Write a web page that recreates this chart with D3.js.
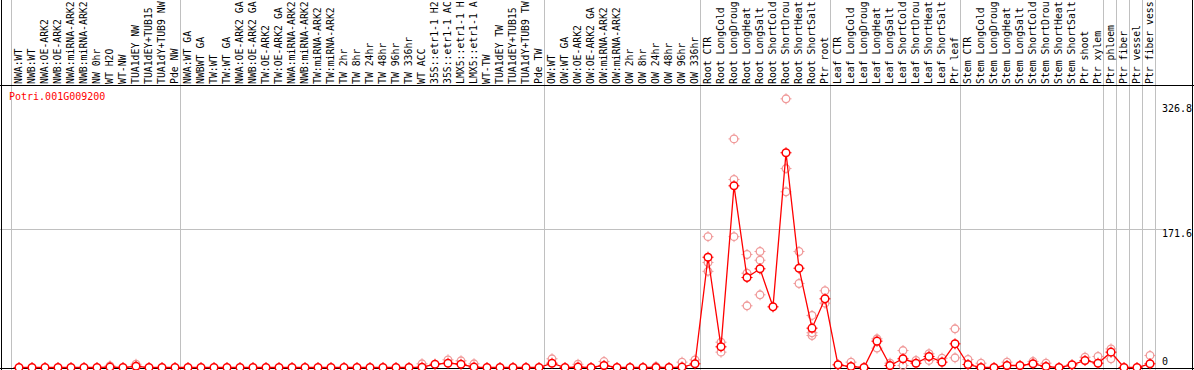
<!DOCTYPE html>
<html>
<head>
<meta charset="utf-8">
<script src="https://cdn.jsdelivr.net/npm/d3@7"></script>
<style>
  html, body { margin: 0; padding: 0; background: #fff; }
  svg { display: block; }
  text { font-family: "DejaVu Sans Mono", monospace; font-size: 10px; }
  .label { font-size: 9.8px; }
</style>
</head>
<body>
<svg id="chart" width="1194" height="370"></svg>
<script>
const geneId = 'Potri.001G009200';

// sample names as they show in the header (long ones are cut there)
const sampleLabels = [
  'NWA:WT', 'NWB:WT', 'NWA:OE-ARK2', 'NWB:OE-ARK2', 'NWA:miRNA-ARK2', 'NWB:miRNA-ARK2',
  'NW 0hr', 'WT H2O', 'WT-NW', 'TUA1dEY NW', 'TUA1dEY+TUB15', 'TUA1dY+TUB9 NW', 'Pde NW',
  'NWA:WT GA', 'NWBWT GA', 'TW:WT', 'TW:WT GA', 'NWA:OE-ARK2 GA', 'NWB:OE-ARK2 GA',
  'TW:OE-ARK2', 'TW:OE-ARK2 GA', 'NWA:miRNA-ARK2', 'NWB:miRNA-ARK2', 'TW:miRNA-ARK2',
  'TW:miRNA-ARK2', 'TW 2hr', 'TW 8hr', 'TW 24hr', 'TW 48hr', 'TW 96hr', 'TW 336hr', 'WT ACC',
  '35S::etr1-1 H2', '35S::etr1-1 AC', 'LMX5::etr1-1 H', 'LMX5::etr1-1 A', 'WT-TW',
  'TUA1dEY TW', 'TUA1dEY+TUB15', 'TUA1dY+TUB9 TW', 'Pde TW',
  'OW:WT', 'OW:WT GA', 'OW:OE-ARK2', 'OW:OE-ARK2 GA', 'OW:miRNA-ARK2', 'OW:miRNA-ARK2',
  'OW 2hr', 'OW 8hr', 'OW 24hr', 'OW 48hr', 'OW 96hr', 'OW 336hr',
  'Root CTR', 'Root LongCold', 'Root LongDroug', 'Root LongHeat', 'Root LongSalt',
  'Root ShortCold', 'Root ShortDrou', 'Root ShortHeat', 'Root ShortSalt', 'Ptr root',
  'Leaf CTR', 'Leaf LongCold', 'Leaf LongDroug', 'Leaf LongHeat', 'Leaf LongSalt',
  'Leaf ShortCold', 'Leaf ShortDrou', 'Leaf ShortHeat', 'Leaf ShortSalt', 'Ptr leaf',
  'Stem CTR', 'Stem LongCold', 'Stem LongDroug', 'Stem LongHeat', 'Stem LongSalt',
  'Stem ShortCold', 'Stem ShortDrou', 'Stem ShortHeat', 'Stem ShortSalt', 'Ptr shoot',
  'Ptr xylem', 'Ptr phloem', 'Ptr fiber', 'Ptr vessel', 'Ptr fiber vess'
];

// index where each sample group starts (last entry = end)
const groupBreaks = [0, 13, 41, 53, 63, 73, 84, 85, 86, 87, 88];

// mean expression per sample
const meanValues = [
  0, 0, 0, 0, 0, 0, 0, 0.5, 0, 1.5, 0, 0, 0,
  0, 0, 0, 0, 0, 0, 0, 0, 0, 0, 0, 0, 0, 0, 0, 0, 0, 0, 0.4,
  4, 5.3, 4, 0.5, 0, 0, 0, 0, 0,
  5.3, 0, 0.5, 0, 2.5, 0, 0, 0, 0, 0, 0.5, 4.6,
  136.5, 25.6, 224.9, 111.4, 122.2, 75.1, 265.8, 122.9, 48.7, 85,
  3.3, 1.2, 0, 32.6, 2.5, 10.8, 5.3, 13.6, 6.6, 29.3,
  3.7, 0, 0, 2.5, 2.5, 4.6, 1.2, 0, 3.3, 8.7, 5.3,
  19, 0, 0, 4.6
];

// individual replicates (only those that stand apart from the mean)
const replicateValues = [
  [], [], [], [], [], [], [], [2], [], [4, 1], [], [], [],
  [], [], [], [], [], [], [], [], [], [], [], [], [], [], [], [], [], [], [4.6],
  [], [9.5], [8.3], [4.6], [], [], [], [], [],
  [10.8], [], [4], [], [7.4], [], [], [], [1.2], [], [6.6], [9.5],
  [162, 130, 119], [31.3, 19], [283, 232.7, 162], [139.9, 116.7, 76.4], [143.6, 132.8, 90], [],
  [332.6, 246.3, 217.5], [143.6, 104], [64.4, 43, 39.6], [95, 79.6],
  [], [6.6], [], [35.5, 24], [5.3], [21, 2.5], [8.7], [17, 8.7], [11.5], [47.9, 12],
  [9.9], [5.3], [], [6.6], [], [7.4], [5.3], [], [], [12.7], [13.6],
  [23, 10.8], [], [], [14.9]
];

const yTicks = [0, 171.6, 326.8];

const width = 1194;
const height = 370;
const plotLeft = 11;
const plotRight = 1155;
const headerBottom = 85;
const plotBottom = 367.5;

const svg = d3.select('#chart');

const x = d3.scaleBand()
  .domain(d3.range(sampleLabels.length))
  .range([plotLeft, plotRight]);
const pointX = i => x(i) + 8;
const edgeX = i => Math.round(i < sampleLabels.length ? x(i) : plotRight) + 0.5;

const y = d3.scaleLinear()
  .domain([0, 326.8])
  .range([plotBottom, 103.5]);

// grid line at middle tick
svg.append('line')
  .attr('x1', 0).attr('x2', plotRight + 8)
  .attr('y1', Math.round(y(171.6)) + 0.5).attr('y2', Math.round(y(171.6)) + 0.5)
  .attr('stroke', '#c0c0c0');

// group separators
svg.selectAll('.sep')
  .data(groupBreaks)
  .enter().append('line')
  .attr('class', 'sep')
  .attr('x1', edgeX)
  .attr('x2', edgeX)
  .attr('y1', 0).attr('y2', height)
  .attr('stroke', '#c0c0c0');

// frame
svg.append('line').attr('x1', 0).attr('x2', width).attr('y1', headerBottom + 0.5).attr('y2', headerBottom + 0.5).attr('stroke', '#000');
svg.append('line').attr('x1', 0).attr('x2', width).attr('y1', 368.5).attr('y2', 368.5).attr('stroke', '#000');
svg.append('line').attr('x1', 1.5).attr('x2', 1.5).attr('y1', 0).attr('y2', height).attr('stroke', '#000');
svg.append('line').attr('x1', 1192.5).attr('x2', 1192.5).attr('y1', 0).attr('y2', height).attr('stroke', '#000');

// sample labels, rotated
svg.selectAll('.label')
  .data(sampleLabels)
  .enter().append('text')
  .attr('class', 'label')
  .attr('transform', (d, i) => `translate(${x(i) + 10.5},84) rotate(-90)`)
  .attr('fill', '#000')
  .text(d => d);

// y labels
svg.selectAll('.ylab')
  .data(yTicks)
  .enter().append('text')
  .attr('class', 'ylab')
  .attr('x', plotRight + 7)
  .attr('y', d => (d === 0 ? y(d) - 2.5 : y(d) + 8))
  .attr('fill', '#000')
  .text(d => d);

// gene id
svg.append('text')
  .attr('x', 9)
  .attr('y', 100)
  .attr('fill', '#ff0000')
  .text(geneId);

const tickPath = 'M0,-5.5V-3.5M0,3.5V5.5M-5.5,0H-3.5M3.5,0H5.5';

// replicates
const reps = [];
replicateValues.forEach((vals, i) => vals.forEach(v => reps.push({ i, v })));

const repG = svg.selectAll('.rep')
  .data(reps)
  .enter().append('g')
  .attr('class', 'rep')
  .attr('transform', d => `translate(${pointX(d.i)},${y(d.v)})`);
repG.append('circle').attr('r', 3.8).attr('fill', 'none').attr('stroke', '#f09a9a').attr('stroke-width', 1.3);
repG.append('path').attr('d', tickPath).attr('stroke', '#f09a9a').attr('stroke-width', 1);

// mean line
const line = d3.line()
  .x((d, i) => pointX(i))
  .y(d => y(d));

svg.append('path')
  .datum(meanValues)
  .attr('d', line)
  .attr('fill', 'none')
  .attr('stroke', '#ff0000')
  .attr('stroke-width', 1.3);

const meanG = svg.selectAll('.mean')
  .data(meanValues)
  .enter().append('g')
  .attr('class', 'mean')
  .attr('transform', (d, i) => `translate(${pointX(i)},${y(d)})`);
meanG.append('circle').attr('r', 3.8).attr('fill', '#fff').attr('stroke', '#ff0000').attr('stroke-width', 1.5);
meanG.append('path').attr('d', tickPath).attr('stroke', '#ff0000').attr('stroke-width', 1);
</script>
</body>
</html>
